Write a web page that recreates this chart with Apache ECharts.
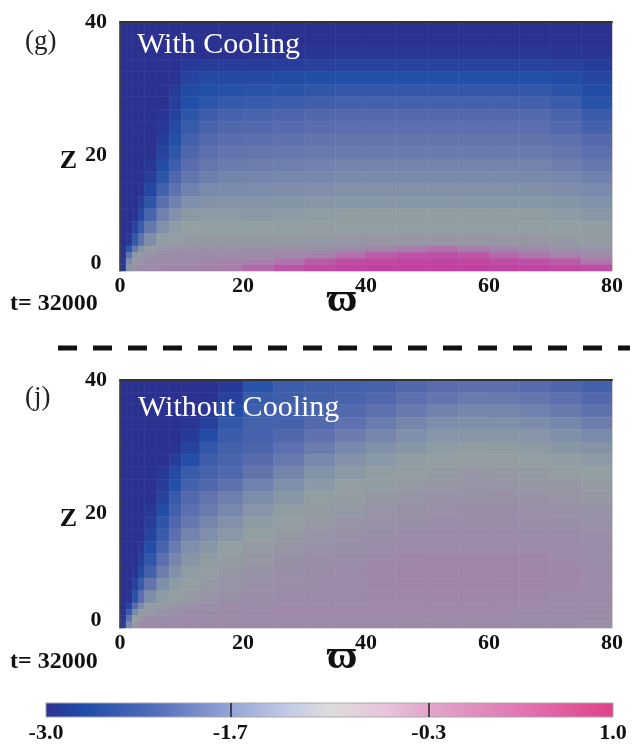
<!DOCTYPE html>
<html>
<head>
<meta charset="utf-8">
<script src="https://cdn.jsdelivr.net/npm/echarts@6/dist/echarts.min.js"></script>
<style>
  html, body { margin: 0; padding: 0; background: #fff; }
  #chart { width: 641px; height: 744px; }
</style>
</head>
<body>
<div id="chart"></div>
<script>
// cell edges (varpi across, z up)
const X_EDGES = [0, 1, 2, 3, 4, 6, 8, 10, 13, 16, 20, 25, 30, 35, 40, 45, 50, 55, 60, 65, 70, 75, 80];
const Z_EDGES = [0, 1, 2, 3, 4, 6, 8, 10, 12, 14, 16, 18, 20, 22, 24, 26, 28, 30, 32, 34, 36, 38, 40];
const Z_LABELS = [0, 20, 40];
const Z_TICKS = [10, 20, 30];
const CBAR_RANGE = [-3.0, 1.0];
const CBAR_LABELS = [-3.0, -1.7, -0.3, 1.0];
const CBAR_TICKS = [-1.7, -0.3];

// log values, rows from z=40 down to z=0
const WITH_COOLING = [
  [-3, -3, -3, -3, -3, -3, -3, -3, -3, -3, -3, -3, -3, -3, -3, -3, -3, -3, -3, -3, -3, -3],
  [-3, -3, -3, -3, -3, -3, -3, -3, -3, -3, -3, -3, -3, -3, -3, -3, -3, -3, -3, -3, -3, -3],
  [-3, -3, -3, -3, -3, -3, -3, -3, -3, -3, -2.95, -2.95, -2.92, -2.9, -2.9, -2.9, -2.9, -2.9, -2.9, -2.9, -2.92, -2.95],
  [-3, -3, -3, -3, -3, -3, -3, -2.85, -2.8, -2.8, -2.8, -2.78, -2.75, -2.7, -2.7, -2.7, -2.7, -2.7, -2.7, -2.7, -2.75, -2.8],
  [-3, -3, -3, -3, -3, -3, -2.95, -2.7, -2.6, -2.6, -2.6, -2.57, -2.54, -2.5, -2.5, -2.5, -2.5, -2.5, -2.5, -2.5, -2.56, -2.65],
  [-3, -3, -3, -3, -3, -3, -2.85, -2.6, -2.5, -2.47, -2.45, -2.42, -2.38, -2.35, -2.35, -2.35, -2.35, -2.35, -2.35, -2.36, -2.42, -2.55],
  [-3, -3, -3, -3, -3, -3, -2.78, -2.5, -2.38, -2.32, -2.3, -2.27, -2.23, -2.2, -2.2, -2.2, -2.2, -2.2, -2.2, -2.21, -2.28, -2.45],
  [-3, -3, -3, -3, -3, -2.95, -2.7, -2.4, -2.25, -2.18, -2.15, -2.12, -2.08, -2.05, -2.05, -2.05, -2.05, -2.05, -2.05, -2.06, -2.14, -2.3],
  [-3, -3, -3, -3, -3, -2.88, -2.6, -2.3, -2.15, -2.08, -2.05, -2.02, -1.98, -1.95, -1.95, -1.95, -1.95, -1.95, -1.95, -1.96, -2.05, -2.2],
  [-3, -3, -3, -3, -3, -2.8, -2.5, -2.2, -2.05, -1.98, -1.95, -1.92, -1.88, -1.85, -1.85, -1.85, -1.85, -1.85, -1.85, -1.86, -1.93, -2.05],
  [-3, -3, -3, -3, -3, -2.7, -2.4, -2.1, -1.95, -1.88, -1.85, -1.82, -1.78, -1.75, -1.75, -1.75, -1.75, -1.75, -1.75, -1.76, -1.83, -1.95],
  [-3, -3, -3, -3, -2.92, -2.55, -2.25, -1.98, -1.8, -1.73, -1.7, -1.67, -1.63, -1.6, -1.6, -1.6, -1.6, -1.6, -1.6, -1.61, -1.68, -1.8],
  [-3, -3, -3, -3, -2.8, -2.4, -2.1, -1.85, -1.68, -1.62, -1.6, -1.57, -1.53, -1.5, -1.5, -1.5, -1.5, -1.5, -1.5, -1.51, -1.56, -1.65],
  [-3, -3, -3, -2.97, -2.65, -2.2, -1.9, -1.65, -1.5, -1.47, -1.45, -1.42, -1.38, -1.35, -1.35, -1.35, -1.35, -1.35, -1.35, -1.36, -1.42, -1.5],
  [-3, -3, -3, -2.82, -2.4, -1.95, -1.65, -1.4, -1.32, -1.3, -1.3, -1.27, -1.23, -1.2, -1.2, -1.2, -1.2, -1.2, -1.2, -1.21, -1.27, -1.35],
  [-3, -3, -2.95, -2.6, -2.15, -1.65, -1.35, -1.15, -1.12, -1.12, -1.15, -1.12, -1.08, -1.05, -1.05, -1.05, -1.05, -1.05, -1.05, -1.06, -1.12, -1.2],
  [-3, -3, -2.7, -2.3, -1.8, -1.35, -1.1, -1.0, -0.98, -0.98, -1.0, -0.98, -0.96, -0.95, -0.95, -0.95, -0.95, -0.95, -0.95, -0.96, -1.0, -1.05],
  [-3, -2.9, -2.35, -1.9, -1.4, -1.05, -0.92, -0.85, -0.82, -0.82, -0.85, -0.83, -0.82, -0.8, -0.78, -0.76, -0.75, -0.76, -0.78, -0.8, -0.85, -0.9],
  [-3, -2.4, -1.8, -1.3, -0.9, -0.7, -0.62, -0.6, -0.6, -0.6, -0.6, -0.58, -0.55, -0.45, -0.3, -0.1, 0.1, -0.1, -0.3, -0.45, -0.6, -0.7],
  [-3, -1.9, -1.2, -0.8, -0.6, -0.55, -0.5, -0.5, -0.5, -0.48, -0.45, -0.4, -0.3, 0.1, 0.4, 0.5, 0.55, 0.45, 0.2, 0.0, -0.2, -0.45],
  [-2.9, -1.5, -0.8, -0.6, -0.5, -0.45, -0.45, -0.42, -0.4, -0.35, -0.25, 0.0, 0.35, 0.6, 0.7, 0.75, 0.75, 0.7, 0.6, 0.5, 0.35, 0.0],
  [-2.9, -1.2, -0.6, -0.5, -0.45, -0.4, -0.35, -0.3, -0.25, -0.1, 0.2, 0.45, 0.65, 0.8, 0.85, 0.85, 0.85, 0.85, 0.8, 0.75, 0.7, 0.6]
];

// panel (j), same layout
const WITHOUT_COOLING = [
  [-3, -3, -3, -3, -3, -3, -3, -3, -3, -2.85, -2.45, -2.25, -2.22, -2.2, -2.16, -2.08, -2.0, -1.95, -1.97, -2.02, -2.1, -2.2],
  [-3, -3, -3, -3, -3, -3, -3, -3, -3, -2.75, -2.3, -2.23, -2.2, -2.15, -2.08, -1.95, -1.85, -1.76, -1.78, -1.85, -1.95, -2.05],
  [-3, -3, -3, -3, -3, -3, -3, -3, -2.9, -2.55, -2.25, -2.2, -2.15, -2.06, -1.93, -1.78, -1.63, -1.56, -1.58, -1.65, -1.76, -1.9],
  [-3, -3, -3, -3, -3, -3, -3, -2.95, -2.75, -2.35, -2.2, -2.17, -2.06, -1.92, -1.75, -1.58, -1.44, -1.36, -1.38, -1.45, -1.56, -1.7],
  [-3, -3, -3, -3, -3, -3, -3, -2.85, -2.55, -2.28, -2.18, -2.08, -1.92, -1.72, -1.55, -1.38, -1.25, -1.2, -1.21, -1.26, -1.36, -1.49],
  [-3, -3, -3, -3, -3, -3, -2.95, -2.7, -2.35, -2.2, -2.13, -1.95, -1.72, -1.52, -1.35, -1.21, -1.1, -1.05, -1.06, -1.11, -1.2, -1.29],
  [-3, -3, -3, -3, -3, -3, -2.82, -2.5, -2.25, -2.15, -2.02, -1.78, -1.52, -1.32, -1.19, -1.06, -0.96, -0.92, -0.93, -0.97, -1.05, -1.14],
  [-3, -3, -3, -3, -3, -2.9, -2.6, -2.3, -2.17, -2.07, -1.86, -1.58, -1.32, -1.17, -1.04, -0.93, -0.85, -0.81, -0.82, -0.86, -0.92, -1.0],
  [-3, -3, -3, -3, -3, -2.82, -2.48, -2.2, -2.08, -1.93, -1.65, -1.38, -1.17, -1.02, -0.91, -0.82, -0.75, -0.71, -0.72, -0.76, -0.81, -0.88],
  [-3, -3, -3, -3, -3, -2.7, -2.3, -2.05, -1.85, -1.68, -1.45, -1.21, -1.02, -0.9, -0.8, -0.72, -0.66, -0.62, -0.63, -0.66, -0.71, -0.78],
  [-3, -3, -3, -3, -2.9, -2.55, -2.22, -1.95, -1.75, -1.54, -1.26, -1.06, -0.9, -0.79, -0.7, -0.63, -0.58, -0.55, -0.56, -0.58, -0.62, -0.68],
  [-3, -3, -3, -3, -2.82, -2.4, -2.1, -1.8, -1.58, -1.34, -1.11, -0.93, -0.79, -0.69, -0.62, -0.56, -0.51, -0.49, -0.49, -0.52, -0.55, -0.6],
  [-3, -3, -3, -3, -2.7, -2.3, -1.95, -1.6, -1.38, -1.18, -0.97, -0.82, -0.69, -0.61, -0.55, -0.5, -0.47, -0.45, -0.45, -0.47, -0.49, -0.53],
  [-3, -3, -3, -2.92, -2.55, -2.15, -1.75, -1.4, -1.21, -1.03, -0.86, -0.72, -0.61, -0.54, -0.49, -0.45, -0.43, -0.42, -0.42, -0.44, -0.46, -0.5],
  [-3, -3, -3, -2.78, -2.38, -1.95, -1.55, -1.22, -1.06, -0.9, -0.76, -0.63, -0.54, -0.49, -0.42, -0.38, -0.36, -0.35, -0.36, -0.38, -0.42, -0.47],
  [-3, -3, -2.95, -2.6, -2.2, -1.7, -1.35, -1.08, -0.93, -0.8, -0.66, -0.56, -0.49, -0.45, -0.4, -0.36, -0.35, -0.34, -0.35, -0.36, -0.4, -0.45],
  [-3, -3, -2.75, -2.3, -1.85, -1.4, -1.12, -0.94, -0.82, -0.7, -0.59, -0.52, -0.47, -0.43, -0.39, -0.36, -0.35, -0.34, -0.35, -0.36, -0.4, -0.45],
  [-3, -2.95, -2.45, -1.95, -1.4, -1.1, -0.95, -0.82, -0.7, -0.6, -0.53, -0.48, -0.45, -0.42, -0.39, -0.37, -0.36, -0.36, -0.37, -0.39, -0.42, -0.46],
  [-3, -2.7, -2.0, -1.5, -1.05, -0.85, -0.72, -0.62, -0.55, -0.5, -0.47, -0.45, -0.44, -0.43, -0.42, -0.41, -0.4, -0.4, -0.41, -0.42, -0.44, -0.47],
  [-3, -2.3, -1.5, -1.05, -0.78, -0.62, -0.55, -0.5, -0.47, -0.45, -0.44, -0.44, -0.44, -0.44, -0.44, -0.43, -0.43, -0.43, -0.44, -0.45, -0.46, -0.48],
  [-2.9, -1.9, -1.0, -0.7, -0.55, -0.48, -0.45, -0.44, -0.44, -0.44, -0.45, -0.46, -0.46, -0.46, -0.46, -0.46, -0.46, -0.46, -0.46, -0.47, -0.48, -0.5],
  [-2.8, -1.5, -0.7, -0.5, -0.45, -0.42, -0.42, -0.43, -0.44, -0.45, -0.46, -0.47, -0.48, -0.48, -0.48, -0.48, -0.48, -0.48, -0.48, -0.49, -0.5, -0.52]
];

// colours as they appear inside the panels (muted) and on the bar below
const HEAT_COLORS = ['#2b3190', '#2250a8', '#5a6cae', '#7a8aac', '#92a0a2', '#9a8ca8', '#ac78ac', '#bc52a6', '#c6389e'];
const CBAR_STOPS = [
  { offset: 0, color: '#2e3192' },
  { offset: 0.0625, color: '#1e4aa8' },
  { offset: 0.2, color: '#5670bc' },
  { offset: 0.325, color: '#94a4d6' },
  { offset: 0.425, color: '#c2cae6' },
  { offset: 0.5, color: '#dddddd' },
  { offset: 0.6, color: '#e8c4da' },
  { offset: 0.675, color: '#e2a6cb' },
  { offset: 0.825, color: '#e07ab2' },
  { offset: 1, color: '#e0408a' }
];

const SERIF = '"Liberation Serif", "DejaVu Serif", serif';

function toCells(rows) {
  const out = [];
  const nz = Z_EDGES.length - 1;
  rows.forEach((row, r) => {
    const k = nz - 1 - r;
    row.forEach((v, i) => {
      out.push([X_EDGES[i], X_EDGES[i + 1], Z_EDGES[k], Z_EDGES[k + 1], v]);
    });
  });
  return out;
}

function renderCell(params, api) {
  const a = api.coord([api.value(0), api.value(3)]);
  const b = api.coord([api.value(1), api.value(2)]);
  const color = api.visual('color');
  return {
    type: 'rect',
    shape: { x: a[0], y: a[1], width: b[0] - a[0], height: b[1] - a[1] },
    style: { fill: color, stroke: color, lineWidth: 0.6 }
  };
}

const tickFont = { fontFamily: SERIF, fontWeight: 'bold', fontSize: 22, color: '#111' };

function bottomAxis(g) {
  return {
    gridIndex: g, type: 'value', min: 0, max: 80, interval: 20, position: 'bottom',
    axisLine: { show: false, onZero: false }, axisTick: { show: false }, splitLine: { show: false },
    axisLabel: Object.assign({ margin: 4 }, tickFont),
    name: '\u03d6', nameLocation: 'middle', nameGap: 8, nameMoveOverlap: false,
    nameTextStyle: { fontFamily: SERIF, fontSize: 42, fontWeight: 'bold', color: '#111', padding: [0, 48, 0, 0] }
  };
}
function topAxis(g) {
  return {
    gridIndex: g, type: 'value', min: 0, max: 80, position: 'top', z: 5,
    axisLine: { show: true, onZero: false, lineStyle: { color: '#333', width: 2 } },
    axisTick: { show: false }, axisLabel: { show: false }, splitLine: { show: false }
  };
}
function leftAxis(g) {
  const rich = {
    n: Object.assign({}, tickFont),
    dn: Object.assign({ padding: [18, 0, 0, 0] }, tickFont),
    up: Object.assign({ padding: [0, 0, 16, 0] }, tickFont)
  };
  return {
    gridIndex: g, type: 'value', min: 0, max: 40, position: 'left', z: 5,
    axisLine: { show: true, onZero: false, lineStyle: { color: '#444', width: 1.5 } },
    axisTick: { show: true, inside: true, length: 4, customValues: Z_TICKS, lineStyle: { color: '#444' } },
    splitLine: { show: false },
    axisLabel: Object.assign({
      customValues: Z_LABELS, margin: 24, align: 'center', rich: rich,
      formatter: v => (v === 20 ? '{dn|' + v + '}' : v === 0 ? '{up|' + v + '}' : '{n|' + v + '}')
    }, tickFont),
    name: 'Z', nameLocation: 'middle', nameRotate: 0, nameGap: 43, nameMoveOverlap: false,
    nameTextStyle: { fontFamily: SERIF, fontSize: 26, fontWeight: 'bold', color: '#111', verticalAlign: 'top', padding: [2, 0, 0, 0] }
  };
}
function rightAxis(g) {
  return {
    gridIndex: g, type: 'value', min: 0, max: 40, position: 'right', z: 5,
    axisLine: { show: true, onZero: false, lineStyle: { color: '#cfcfcf', width: 1 } },
    axisTick: { show: false }, axisLabel: { show: false }, splitLine: { show: false }
  };
}

const chart = echarts.init(document.getElementById('chart'));
const option = {
  animation: false,
  grid: [
    { left: 120, top: 22, width: 492, height: 249 },
    { left: 120, top: 380, width: 492, height: 248 },
    { left: 46, top: 703, width: 567, height: 14 }
  ],
  xAxis: [
    bottomAxis(0), topAxis(0), bottomAxis(1), topAxis(1),
    {
      gridIndex: 2, type: 'value', min: CBAR_RANGE[0], max: CBAR_RANGE[1], z: 5,
      axisLine: { show: false, onZero: false }, splitLine: { show: false },
      axisTick: { show: true, inside: true, length: 14, customValues: CBAR_TICKS, lineStyle: { color: '#222', width: 1.5 } },
      axisLabel: Object.assign({ customValues: CBAR_LABELS, margin: 5, formatter: v => v.toFixed(1) }, tickFont)
    }
  ],
  yAxis: [
    leftAxis(0), rightAxis(0), leftAxis(1), rightAxis(1),
    { gridIndex: 2, type: 'value', min: 0, max: 1, show: false }
  ],
  visualMap: {
    show: false, type: 'continuous', min: CBAR_RANGE[0], max: CBAR_RANGE[1],
    dimension: 4, seriesIndex: [0, 1], inRange: { color: HEAT_COLORS }
  },
  series: [
    {
      type: 'custom', xAxisIndex: 0, yAxisIndex: 0, silent: true,
      encode: { x: [0, 1], y: [2, 3] },
      data: toCells(WITH_COOLING), renderItem: renderCell
    },
    {
      type: 'custom', xAxisIndex: 2, yAxisIndex: 2, silent: true,
      encode: { x: [0, 1], y: [2, 3] },
      data: toCells(WITHOUT_COOLING), renderItem: renderCell
    },
    {
      type: 'custom', xAxisIndex: 4, yAxisIndex: 4, silent: true,
      data: [[CBAR_RANGE[0], CBAR_RANGE[1]]],
      encode: { x: [0, 1] },
      renderItem: (params, api) => {
        const a = api.coord([api.value(0), 1]);
        const b = api.coord([api.value(1), 0]);
        return {
          type: 'rect',
          shape: { x: a[0], y: a[1], width: b[0] - a[0], height: b[1] - a[1] },
          style: { fill: new echarts.graphic.LinearGradient(0, 0, 1, 0, CBAR_STOPS), stroke: '#a8a8a8', lineWidth: 1 }
        };
      }
    }
  ],
  graphic: [
    { type: 'text', x: 25, y: 42, z: 100, style: { text: '(g)', font: '27px ' + SERIF, fill: '#222', verticalAlign: 'middle' } },
    { type: 'text', x: 137, y: 45, z: 100, style: { text: 'With Cooling', font: '30px ' + SERIF, fill: '#ffffff', verticalAlign: 'middle' } },
    { type: 'text', x: 10, y: 304, z: 100, style: { text: 't= 32000', font: 'bold 24px ' + SERIF, fill: '#111', verticalAlign: 'middle' } },
    { type: 'line', z: 100, shape: { x1: 58, y1: 348, x2: 630, y2: 348 }, style: { stroke: '#111', lineWidth: 5, lineDash: [19, 16] } },
    { type: 'text', x: 25, y: 398, z: 100, style: { text: '(j)', font: '27px ' + SERIF, fill: '#222', verticalAlign: 'middle' } },
    { type: 'text', x: 138, y: 408, z: 100, style: { text: 'Without Cooling', font: '30px ' + SERIF, fill: '#ffffff', verticalAlign: 'middle' } },
    { type: 'text', x: 10, y: 662, z: 100, style: { text: 't= 32000', font: 'bold 24px ' + SERIF, fill: '#111', verticalAlign: 'middle' } }
  ]
};
chart.setOption(option);
</script>
</body>
</html>
